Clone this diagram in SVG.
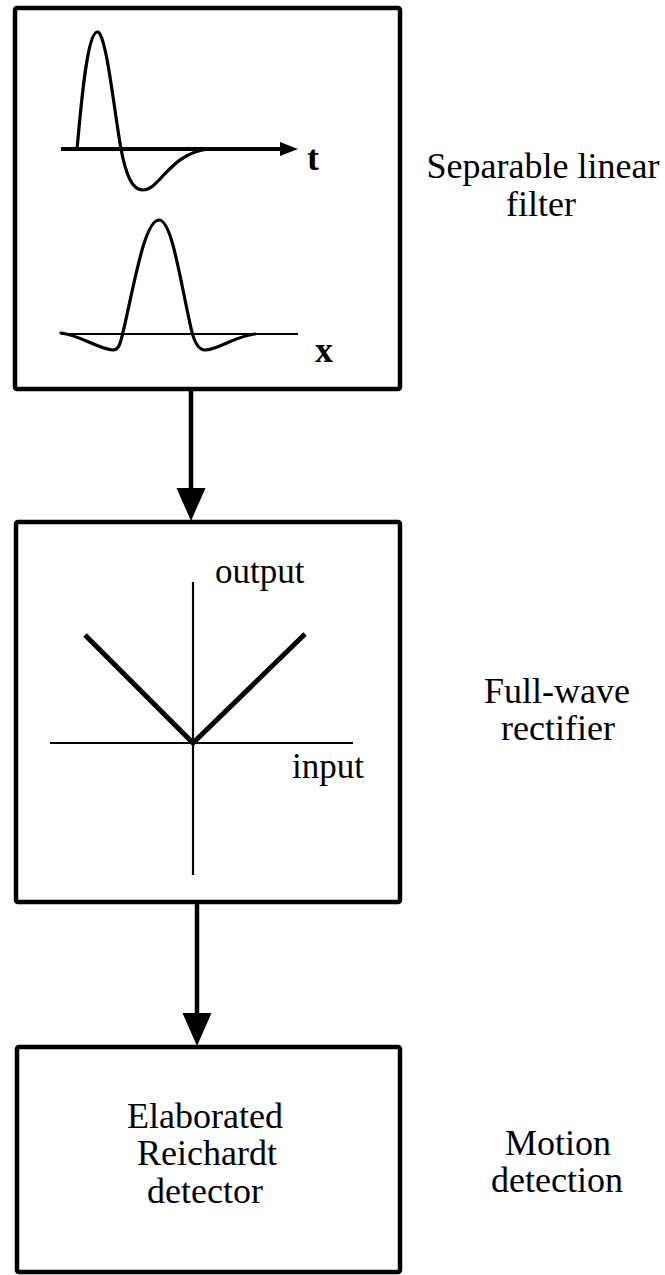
<svg xmlns="http://www.w3.org/2000/svg" width="665" height="1275" viewBox="0 0 665 1275">
<style>
.box{fill:#fff;stroke:#000;stroke-width:4.5;stroke-linejoin:round}
.lbl{font-family:"Liberation Serif","Times New Roman",serif;font-size:36px;fill:#000;text-anchor:middle}
.ax{font-family:"Liberation Serif","Times New Roman",serif;font-size:35px;fill:#000}
.axb{font-family:"Liberation Serif","Times New Roman",serif;font-size:36px;font-weight:bold;fill:#000}
.curve{fill:none;stroke:#000;stroke-width:3.2;stroke-linejoin:round;stroke-linecap:round}
.thin{fill:none;stroke:#000;stroke-width:2.2}
.conn{fill:none;stroke:#000;stroke-width:4.5}
</style>
<defs>
<marker id="head" markerUnits="userSpaceOnUse" markerWidth="34" markerHeight="30" refX="0" refY="14.5" orient="auto" overflow="visible">
<path d="M0,0 L33,14.5 L0,29 Z" fill="#000"/>
</marker>
</defs>
<rect width="665" height="1275" fill="#fff"/>

<g id="node-filter">
<rect class="box" x="15" y="8" width="385" height="381" rx="2"/>
<line x1="61" y1="149" x2="282" y2="149" stroke="#000" stroke-width="4"/>
<polygon points="280,142 298,149 280,156" fill="#000"/>
<path class="curve" d="M77,149 C80,120 86,34 97,32 C106,30 114,110 121,149 C126,175 132,190 143,190 C160,190 170,152 210,149"/>
<text class="axb" x="307" y="170">t</text>
<line class="thin" x1="61" y1="334" x2="298" y2="334"/>
<path class="curve" d="M61,333 C80,335 100,350 113,350 C120,350 121,340 124,328 C135,280 145,220 159,220 C172,220 180,280 191,328 C194,342 198,350 205,350 C218,350 235,336 255,334"/>
<text class="axb" x="315" y="362">x</text>
</g>

<g id="node-rectifier">
<rect class="box" x="16" y="522" width="384" height="380" rx="2"/>
<line class="thin" x1="193" y1="582" x2="193" y2="875"/>
<line class="thin" x1="50" y1="743" x2="353" y2="743"/>
<polyline fill="none" stroke="#000" stroke-width="5" points="85,635 193,743 305,634"/>
<text class="ax" x="215" y="583">output</text>
<text class="ax" x="292" y="778">input</text>
</g>

<g id="node-reichardt">
<rect class="box" x="17" y="1047" width="383" height="225" rx="2"/>
<text class="lbl" x="205" y="1128">Elaborated</text>
<text class="lbl" x="207" y="1165">Reichardt</text>
<text class="lbl" x="205" y="1203">detector</text>
</g>

<g id="labels">
<text class="lbl" x="543" y="178">Separable linear</text>
<text class="lbl" x="541" y="216">filter</text>
<text class="lbl" x="557" y="703">Full-wave</text>
<text class="lbl" x="558" y="740">rectifier</text>
<text class="lbl" x="558" y="1155">Motion</text>
<text class="lbl" x="557" y="1192">detection</text>
</g>

<g id="connectors">
<line class="conn" x1="191" y1="391" x2="191" y2="488" marker-end="url(#head)"/>
<line class="conn" x1="197" y1="904" x2="197" y2="1013" marker-end="url(#head)"/>
</g>
</svg>
